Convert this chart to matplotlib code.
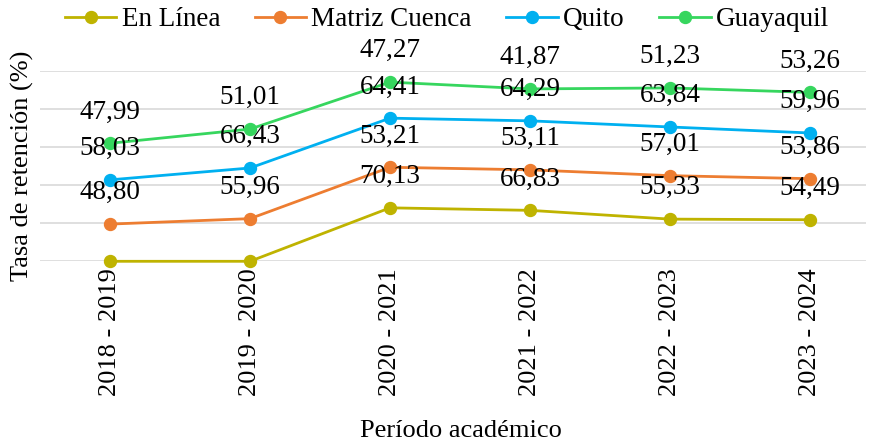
import numpy as np
import matplotlib
matplotlib.use("Agg")
import matplotlib.pyplot as plt
from matplotlib.font_manager import FontProperties

plt.rcParams['font.family'] = ['Liberation Serif', 'DejaVu Serif']
plt.rcParams['font.serif'] = ['Liberation Serif', 'DejaVu Serif']
FAM = ['Liberation Serif', 'DejaVu Serif']
FS = 19.5

periods = ["2018 - 2019", "2019 - 2020", "2020 - 2021", "2021 - 2022", "2022 - 2023", "2023 - 2024"]
en_linea = [np.nan, np.nan, 70.13, 66.83, 55.33, 54.49]
matriz_cuenca = [48.80, 55.96, 53.21, 53.11, 57.01, 53.86]
quito = [58.03, 66.43, 64.41, 64.29, 63.84, 59.96]
guayaquil = [47.99, 51.01, 47.27, 41.87, 51.23, 53.26]

series_names = ["En Línea", "Matriz Cuenca", "Quito", "Guayaquil"]
series_values = [en_linea, matriz_cuenca, quito, guayaquil]
colors = ["#BFB300", "#ED7D31", "#00B0F0", "#36D65E"]

W, H = 869, 445
fig = plt.figure(figsize=(W / 100, H / 100), dpi=100)
left_px, right_px, top_px, bottom_px = 40, 866, 70.7, 261.3
ax = fig.add_axes([left_px / W, 1 - bottom_px / H, (right_px - left_px) / W, (bottom_px - top_px) / H])

x = np.arange(len(periods))
cum = np.zeros(len(periods))
handles = []
for name, vals, col in zip(series_names, series_values, colors):
    v = np.array(vals, dtype=float)
    cum = cum + np.nan_to_num(v)
    h, = ax.plot(x, cum, color=col, lw=2.0, marker='o', markersize=8.6, label=name, zorder=3, clip_on=False)
    handles.append(h)
    for xi, yi, vi in zip(x, cum, v):
        if not np.isnan(vi):
            ax.annotate(f"{vi:.2f}".replace('.', ','), (xi, yi), xytext=(0, 22.5),
                        textcoords='offset points', ha='center', va='center',
                        fontsize=FS, family=FAM, color='black', zorder=4)

ax.set_xlim(-0.5, 5.4)
ax.set_ylim(0, 250)
ax.set_yticks(np.arange(0, 251, 50))
ax.set_yticklabels([])
ax.tick_params(axis='y', length=0)
ax.grid(axis='y', color='#D9D9D9', lw=1.2, zorder=0)
ax.set_axisbelow(True)
for s in ax.spines.values():
    s.set_visible(False)
ax.set_xticks(x)
ax.set_xticklabels(periods, rotation=90, fontsize=19, family=FAM, va='top', ha='center')
ax.tick_params(axis='x', length=0, pad=5)

fig.text(22 / W, 1 - 166 / H, "Tasa de retención (%)", rotation=90, ha='center', va='center',
         fontsize=19, family=FAM)
fig.text(461 / W, 1 - 431 / H, "Período académico", ha='center', va='center', fontsize=19, family=FAM)

fig.legend(handles=handles, loc='center', bbox_to_anchor=(447 / W, 1 - 19.5 / H), ncol=4,
           frameon=False, prop=FontProperties(family=FAM, size=FS), handlelength=1.9,
           handletextpad=0.2, columnspacing=1.27, borderaxespad=0, borderpad=0)

fig.savefig("out.png", dpi=100)
